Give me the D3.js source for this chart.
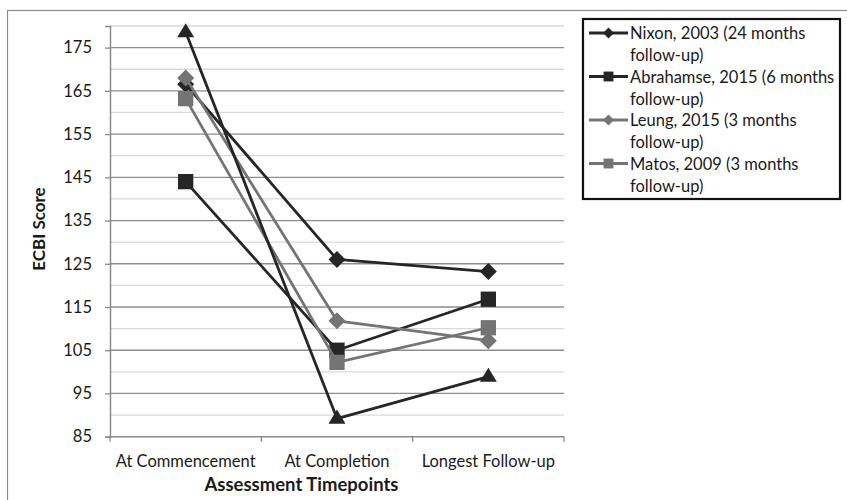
<!DOCTYPE html>
<html>
<head>
<meta charset="utf-8">
<script src="https://cdn.jsdelivr.net/npm/d3@7"></script>
<style>
  html, body { margin: 0; padding: 0; background: #fff; }
  svg { display: block; font-family: Lato, "Open Sans", sans-serif; }
</style>
</head>
<body>
<svg id="chart" width="847" height="500"></svg>
<script>
// Assessment timepoints on the x axis
const timepoints = ["At Commencement", "At Completion", "Longest Follow-up"];

// ECBI scores per study at each timepoint
const nixon     = [166.5, 126.0, 123.2];
const abrahamse = [144.0, 105.0, 116.8];
const leung     = [168.0, 111.8, 107.2];
const matos     = [163.2, 102.2, 110.2];
const extra     = [178.6, 89.2, 98.9];

const seriesNames = [
  "Nixon, 2003 (24 months follow-up)",
  "Abrahamse, 2015 (6 months follow-up)",
  "Leung, 2015 (3 months follow-up)",
  "Matos, 2009 (3 months follow-up)",
  "Additional study"
];
const legendLines = [
  ["Nixon, 2003 (24 months", "follow-up)"],
  ["Abrahamse, 2015 (6 months", "follow-up)"],
  ["Leung, 2015 (3 months", "follow-up)"],
  ["Matos, 2009 (3 months", "follow-up)"]
];

const yTicks = [85, 95, 105, 115, 125, 135, 145, 155, 165, 175];
const yMinor = [90, 100, 110, 120, 130, 140, 150, 160, 170, 180];

const dark = "#262626", grey = "#747474";
const series = [
  { name: seriesNames[0], values: nixon,     color: dark, shape: "diamond" },
  { name: seriesNames[1], values: abrahamse, color: dark, shape: "square" },
  { name: seriesNames[2], values: leung,     color: grey, shape: "diamond" },
  { name: seriesNames[3], values: matos,     color: grey, shape: "square" },
  { name: seriesNames[4], values: extra,     color: dark, shape: "triangle" }
];

const labelSize = 16.5;
const svg = d3.select("#chart");

// outer chart frame
svg.append("rect")
  .attr("x", 7.5).attr("y", 10.5).attr("width", 900).attr("height", 600)
  .attr("fill", "none").attr("stroke", "#8a8a8a").attr("stroke-width", 1.2);

const plot = { left: 110, right: 564, top: 26, bottom: 436.7 };

const x = d3.scalePoint().domain(timepoints).range([plot.left, plot.right]).padding(0.5);
const y = d3.scaleLinear().domain([85, 180]).range([plot.bottom, plot.top]);

// minor gridlines
svg.append("g").selectAll("line").data(yMinor).join("line")
  .attr("x1", plot.left).attr("x2", plot.right)
  .attr("y1", d => y(d)).attr("y2", d => y(d))
  .attr("stroke", "#d9d9d9").attr("stroke-width", 1.3);

// major gridlines
svg.append("g").selectAll("line").data(yTicks.slice(1)).join("line")
  .attr("x1", plot.left).attr("x2", plot.right)
  .attr("y1", d => y(d)).attr("y2", d => y(d))
  .attr("stroke", "#8c8c8c").attr("stroke-width", 1.3);

// y axis
const yAxis = d3.axisLeft(y).tickValues(yTicks).tickSize(5).tickPadding(13).tickFormat(d3.format("d"));
const gy = svg.append("g").attr("transform", `translate(${plot.left},0)`).call(yAxis);
gy.select(".domain").attr("stroke", "#8a8a8a").attr("stroke-width", 1.5);
gy.selectAll(".tick line").attr("stroke", "#8a8a8a").attr("stroke-width", 1.3);
gy.selectAll(".tick text").attr("font-size", labelSize).attr("fill", "#1a1a1a")
  .attr("font-family", "Lato, 'Open Sans', sans-serif");

// x axis with ticks at category boundaries
const gx = svg.append("g").attr("transform", `translate(0,${plot.bottom})`);
gx.append("line").attr("x1", plot.left).attr("x2", plot.right)
  .attr("stroke", "#8a8a8a").attr("stroke-width", 1.5);
const step = x.step();
const bounds = [0, 1, 2, 3].map(i => plot.left + i * step);
gx.selectAll("line.tk").data(bounds).join("line").attr("class", "tk")
  .attr("x1", d => d).attr("x2", d => d).attr("y1", 0).attr("y2", 5)
  .attr("stroke", "#8a8a8a").attr("stroke-width", 1.3);
gx.selectAll("text").data(timepoints).join("text")
  .attr("x", d => x(d)).attr("y", 30)
  .attr("text-anchor", "middle").attr("font-size", labelSize).attr("fill", "#1a1a1a")
  .text(d => d);

// axis titles
svg.append("text").attr("x", 301.5).attr("y", 491).attr("text-anchor", "middle")
  .attr("font-size", 18.5).attr("font-weight", "bold").attr("fill", "#1a1a1a")
  .text("Assessment Timepoints");
svg.append("text").attr("transform", "translate(45,229) rotate(-90)")
  .attr("text-anchor", "middle")
  .attr("font-size", 17).attr("font-weight", "bold").attr("fill", "#1a1a1a")
  .text("ECBI Score");

// marker path generator
function markerPath(shape, s) {
  if (shape === "diamond") return `M0,${-s}L${s},0L0,${s}L${-s},0Z`;
  if (shape === "square") return `M${-s*0.9},${-s*0.9}H${s*0.9}V${s*0.9}H${-s*0.9}Z`;
  return `M0,${-s*1.05}L${s},${s*0.6}L${-s},${s*0.6}Z`;
}

const line = d3.line().x((d, i) => x(timepoints[i])).y(d => y(d));

const gs = svg.append("g").selectAll("g").data(series).join("g");
gs.append("path")
  .attr("d", d => line(d.values))
  .attr("fill", "none").attr("stroke", d => d.color).attr("stroke-width", 2.8)
  .attr("stroke-linejoin", "round");
gs.each(function(s) {
  d3.select(this).selectAll("path.m").data(s.values).join("path").attr("class", "m")
    .attr("transform", (d, i) => `translate(${x(timepoints[i])},${y(d)})`)
    .attr("d", markerPath(s.shape, 8.5))
    .attr("fill", s.color);
});

// legend
const lg = svg.append("g");
lg.append("rect").attr("x", 583).attr("y", 19).attr("width", 257).attr("height", 180)
  .attr("fill", "#fff").attr("stroke", "#111").attr("stroke-width", 2.2);
legendLines.forEach((lines, i) => {
  const s = series[i];
  const cy = 33 + i * 43.5;
  lg.append("line").attr("x1", 589).attr("x2", 628).attr("y1", cy).attr("y2", cy)
    .attr("stroke", s.color).attr("stroke-width", 2.8);
  lg.append("path").attr("transform", `translate(608.5,${cy})`)
    .attr("d", markerPath(s.shape, 5.5)).attr("fill", s.color);
  lines.forEach((t, j) => {
    lg.append("text").attr("x", 630).attr("y", cy + 6 + j * 22)
      .attr("font-size", labelSize).attr("fill", "#1a1a1a").text(t);
  });
});
</script>
</body>
</html>
